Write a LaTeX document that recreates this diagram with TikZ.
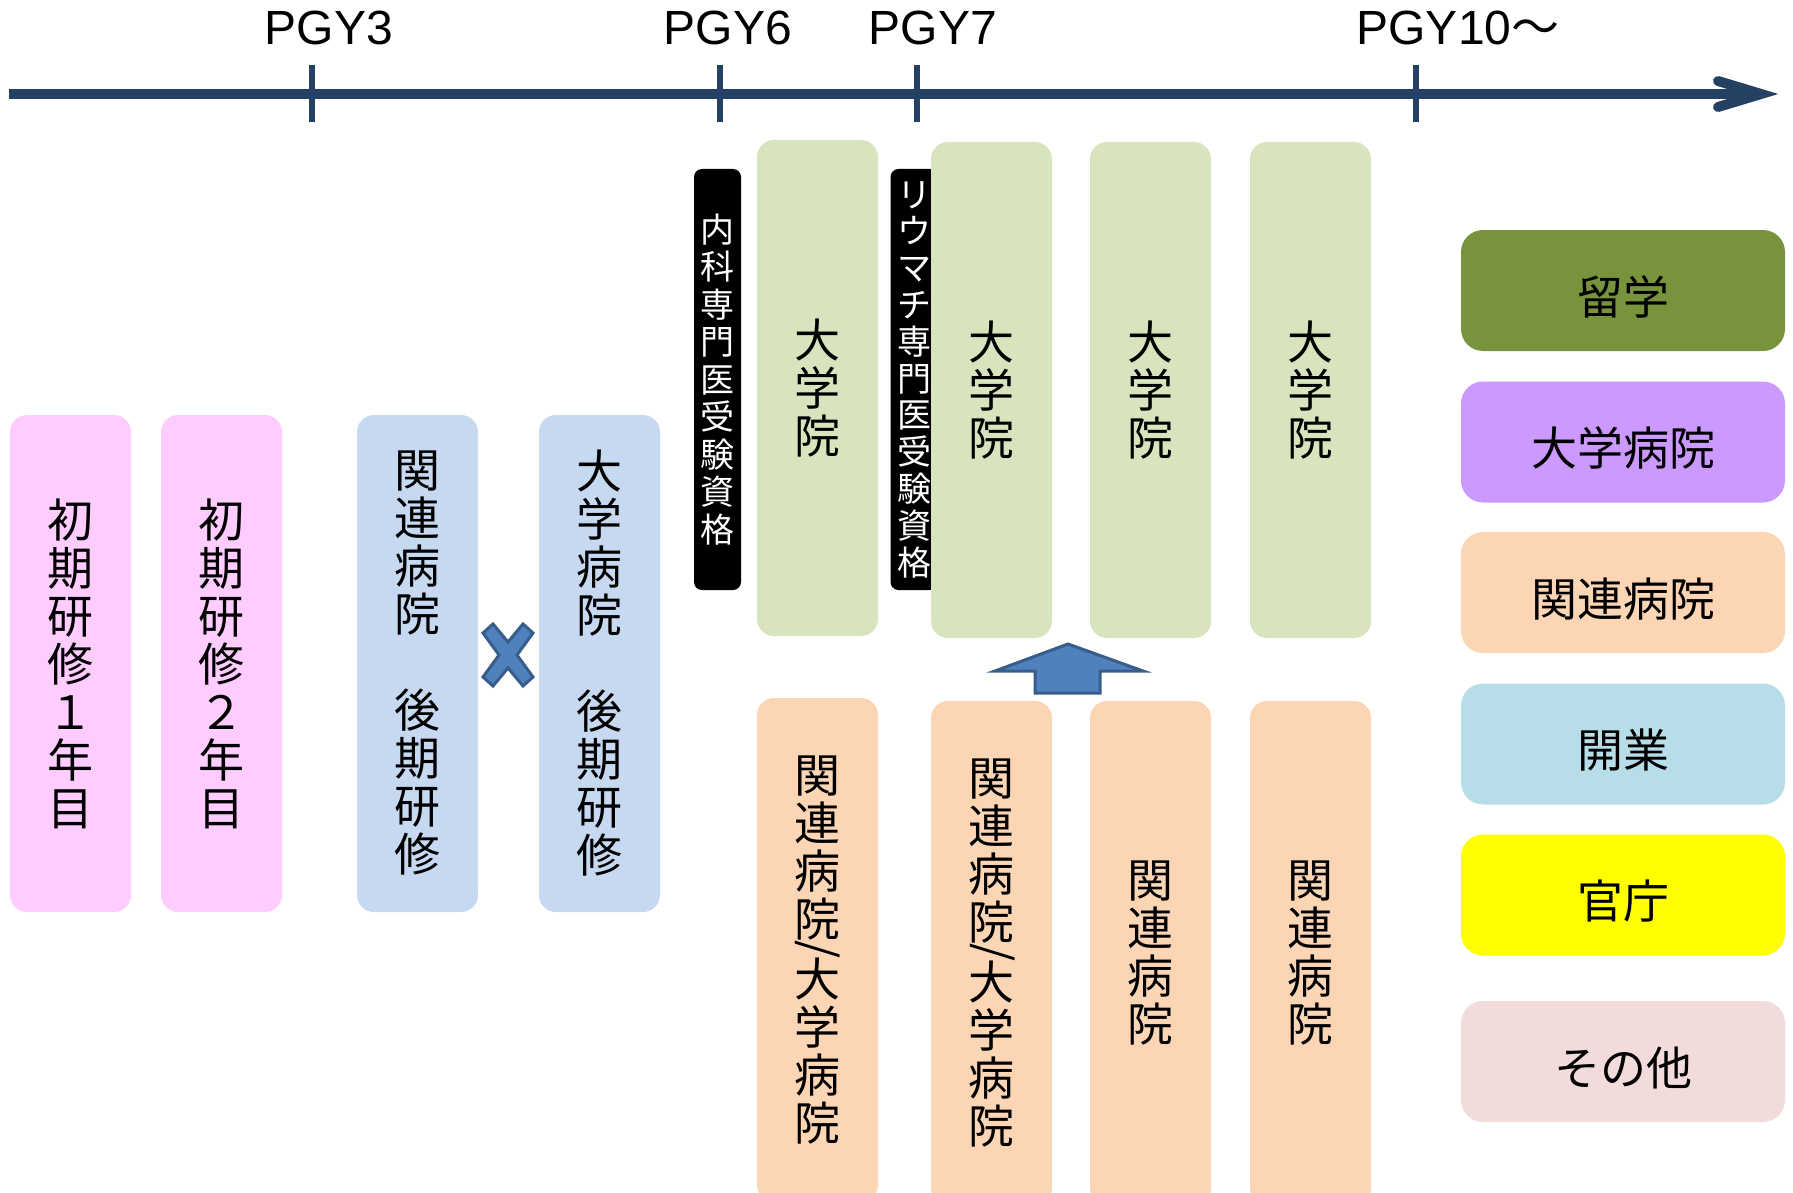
\documentclass[tikz,border=0pt]{standalone}
\usepackage{fontspec}
\usepackage{tikz}
\setmainfont{Liberation Sans}
\newfontfamily\jpfont{Noto Sans CJK JP}

\definecolor{axisnavy}{RGB}{36,64,98}
\definecolor{pinkfill}{RGB}{255,204,255}
\definecolor{bluefill}{RGB}{198,217,241}
\definecolor{greenfill}{RGB}{215,228,189}
\definecolor{orangefill}{RGB}{252,213,181}
\definecolor{shapefill}{RGB}{79,129,189}
\definecolor{shapeline}{RGB}{56,93,138}
\definecolor{ryugakufill}{RGB}{119,147,60}
\definecolor{daigakufill}{RGB}{204,153,255}
\definecolor{kaigyofill}{RGB}{183,222,232}
\definecolor{kanchofill}{RGB}{255,255,0}
\definecolor{sonotafill}{RGB}{242,220,219}

\newcommand{\colfont}{\jpfont\fontsize{46pt}{48pt}\selectfont}
\newcommand{\tagfont}{\jpfont\fontsize{34pt}{37.5pt}\selectfont}
\newcommand{\pgyfont}{\fontsize{48pt}{56pt}\selectfont}

\tikzset{
  colbox/.style={rounded corners=17, minimum width=121, inner sep=0pt, align=center, font=\colfont},
  tagbox/.style={fill=black, text=white, rounded corners=8, minimum width=47, minimum height=421, inner sep=0pt, align=center, font=\tagfont},
  legendbox/.style={rounded corners=22, minimum width=324, minimum height=121, inner sep=0pt, text height=50pt, text depth=3pt, font=\colfont},
  slashmark/.style={rotate=-90, inner sep=0pt, font=\colfont},
  axisline/.style={draw=axisnavy, line width=10},
  yeartick/.style={draw=axisnavy, line width=6},
  blockshape/.style={fill=shapefill, draw=shapeline, line width=3, line join=miter}
}

\begin{document}
\begin{tikzpicture}[x=1pt,y=1pt,yscale=-1,xscale=1]
\useasboundingbox (0,0) rectangle (1793,1193);
\clip (0,0) rectangle (1793,1193);

%Time axis
\coordinate (axisstart) at (9,94);
\coordinate (axisend) at (1761,94);
\draw [axisline] (axisstart) -- (axisend);
\draw [axisline, line cap=round] (1718,81) -- (axisend) -- (1718,107);

%Year ticks
\draw [yeartick] (312,65) -- (312,122);
\draw [yeartick] (720,65) -- (720,122);
\draw [yeartick] (917,65) -- (917,122);
\draw [yeartick] (1416,65) -- (1416,122);

% Text Node
\node [font=\pgyfont] (pgy3) at (329,28) {PGY3};
% Text Node
\node [font=\pgyfont] (pgy6) at (728,28) {PGY6};
% Text Node
\node [font=\pgyfont] (pgy7) at (933,28) {PGY7};
% Text Node
\node [font=\pgyfont] (pgy10) at (1458,28) {PGY10{\jpfont 〜}};

%Initial training
\node [colbox, fill=pinkfill, minimum height=497] (shoki1) at (70.5,663.5) {初\\期\\研\\修\\１\\年\\目};
\node [colbox, fill=pinkfill, minimum height=497] (shoki2) at (221.5,663.5) {初\\期\\研\\修\\２\\年\\目};

%Late training
\node [colbox, fill=bluefill, minimum height=497] (koki1) at (417.5,663.5) {関\\連\\病\\院\\[48pt]後\\期\\研\\修};
\node [colbox, fill=bluefill, minimum height=497] (koki2) at (599.5,663.5) {大\\学\\病\\院\\[48pt]後\\期\\研\\修};

%Cross mark
\draw [blockshape, shift={(508,655)}] (-25,-22) -- (-15,-31) -- (0,-13) -- (15,-31) -- (25,-22) -- (9,0) -- (25,22) -- (15,31) -- (0,13) -- (-15,31) -- (-25,22) -- (-9,0) -- cycle;

%Qualification tags
\node [tagbox] (naika) at (717.5,379.5) {内\\科\\専\\門\\医\\受\\験\\資\\格};
\node [tagbox, font=\jpfont\fontsize{34pt}{36.8pt}\selectfont] (rheuma) at (914,379.5) {リ\\ウ\\マ\\チ\\専\\門\\医\\受\\験\\資\\格};

%Graduate school
\node [colbox, fill=greenfill, minimum height=496] (inA) at (817.5,388) {大\\学\\院};
\node [colbox, fill=greenfill, minimum height=496] (inB) at (991.5,390) {大\\学\\院};
\node [colbox, fill=greenfill, minimum height=496] (inC) at (1150.5,390) {大\\学\\院};
\node [colbox, fill=greenfill, minimum height=496] (inD) at (1310.5,390) {大\\学\\院};

%Hospitals
\node [colbox, fill=orangefill, minimum height=504] (byoA) at (817.5,950) {関\\連\\病\\院\\[12pt]大\\学\\病\\院};
\node [colbox, fill=orangefill, minimum height=504] (byoB) at (991.5,953) {関\\連\\病\\院\\[12pt]大\\学\\病\\院};
\node [colbox, fill=orangefill, minimum height=504] (byoC) at (1150.5,953) {関\\連\\病\\院};
\node [colbox, fill=orangefill, minimum height=504] (byoD) at (1310.5,953) {関\\連\\病\\院};
\node [slashmark] (slashA) at (818,950) {/};
\node [slashmark] (slashB) at (993,953) {/};

%Up arrow
\draw [blockshape] (1068,644) -- (1143,671) -- (1100,671) -- (1100,693) -- (1035,693) -- (1035,671) -- (995,671) -- cycle;

%Legend
\node [legendbox, fill=ryugakufill] (ryugaku) at (1623,290.5) {留学};
\node [legendbox, fill=daigakufill] (daigaku) at (1623,442) {大学病院};
\node [legendbox, fill=orangefill] (kanren) at (1623,592.5) {関連病院};
\node [legendbox, fill=kaigyofill] (kaigyo) at (1623,744) {開業};
\node [legendbox, fill=kanchofill] (kancho) at (1623,895) {官庁};
\node [legendbox, fill=sonotafill] (sonota) at (1623,1061.5) {その他};

\end{tikzpicture}
\end{document}
